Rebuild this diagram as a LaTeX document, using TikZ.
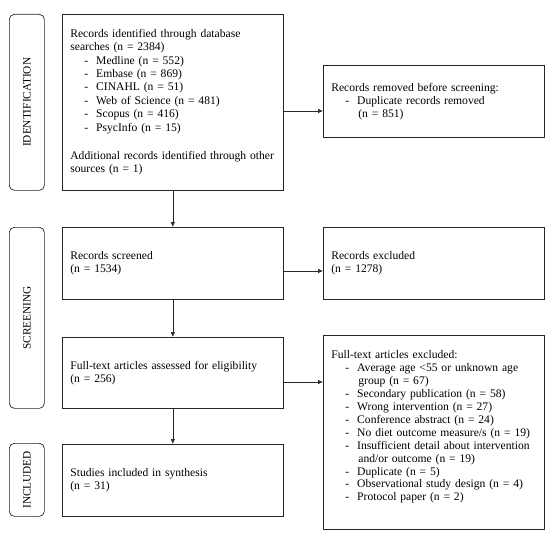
\documentclass[tikz,border=0pt]{standalone}
\usepackage{fontspec}
\setmainfont{Liberation Serif}
\usetikzlibrary{calc,arrows.meta}
\newcommand{\li}[1]{\hspace*{14bp}-\hspace*{8bp}#1}
\newcommand{\lc}[1]{\hspace*{27bp}#1}

\begin{document}
\begin{tikzpicture}[x=1bp,y=-1bp,
  box/.style={draw=black!85, line width=0.7bp, rectangle, anchor=north west, minimum width=221bp,
    text width=205bp, align=left, inner sep=8bp, font=\fontsize{11.6bp}{12.9bp}\selectfont},
  stage/.style={draw=black!85, line width=0.7bp, rounded corners=5bp, anchor=north west, minimum width=35bp},
  stagetext/.style={rotate=90, font=\fontsize{11.3bp}{12.9bp}\selectfont},
  arr/.style={draw=black!85, line width=0.7bp, -{Latex[length=5bp,width=4.5bp]}}]
\useasboundingbox (0,0) rectangle (550,537);
% stage labels
\node[stage, minimum height=176bp] (ident) at (9,14) {};
\node[stagetext] at (ident.center) {IDENTIFICATION};
\node[stage, minimum height=181bp] (screen) at (9,227) {};
\node[stagetext] at (screen.center) {SCREENING};
\node[stage, minimum height=73bp] (incl) at (9,443) {};
\node[stagetext] at (incl.center) {INCLUDED};
% left column
\node[box, minimum height=176bp, font=\fontsize{11.6bp}{13.4bp}\selectfont] (identified) at (62,14)
  {Records identified through database\\searches (n = 2384)\\
  \li{Medline (n = 552)}\\\li{Embase (n = 869)}\\\li{CINAHL (n = 51)}\\\li{Web of Science (n = 481)}\\
  \li{Scopus (n = 416)}\\\li{PsycInfo (n = 15)}\\[15bp]
  Additional records identified through other\\sources (n = 1)};
\node[box, minimum height=72bp] (screened) at (62,227) {Records screened\\(n = 1534)};
\node[box, minimum height=71bp] (assessed) at (62,337) {Full-text articles assessed for eligibility\\(n = 256)};
\node[box, minimum height=72bp] (included) at (62,444) {Studies included in synthesis\\(n = 31)};
% right column
\node[box, minimum height=72bp] (removed) at (323,65) {Records removed before screening:\\
  \li{Duplicate records removed}\\\lc{(n = 851)}};
\node[box, minimum height=72bp] (excluded) at (323,227) {Records excluded\\(n = 1278)};
\node[box, minimum height=194bp] (ftexcl) at (323,335) {Full-text articles excluded:\\
  \li{Average age <55 or unknown age}\\\lc{group (n = 67)}\\
  \li{Secondary publication (n = 58)}\\\li{Wrong intervention (n = 27)}\\
  \li{Conference abstract (n = 24)}\\\li{No diet outcome measure/s (n = 19)}\\
  \li{Insufficient detail about intervention}\\\lc{and/or outcome (n = 19)}\\
  \li{Duplicate (n = 5)}\\\li{Observational study design (n = 4)}\\\li{Protocol paper (n = 2)}\\\mbox{}};
% arrows
\coordinate (a1) at (0,111);
\coordinate (a2) at (0,271);
\coordinate (a3) at (0,382);
\draw[arr] (identified.south) -- (screened.north);
\draw[arr] (screened.south) -- (assessed.north);
\draw[arr] (assessed.south) -- (included.north);
\draw[arr] (identified.east |- a1) -- (removed.west |- a1);
\draw[arr] (screened.east |- a2) -- (excluded.west |- a2);
\draw[arr] (assessed.east |- a3) -- (ftexcl.west |- a3);
\end{tikzpicture}
\end{document}
